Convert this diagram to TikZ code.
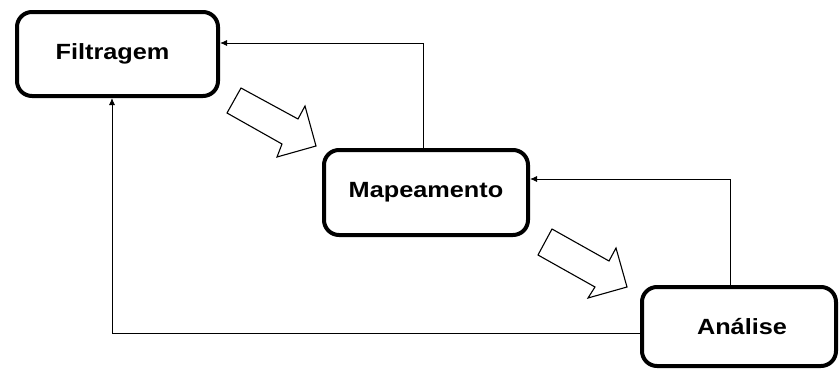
\documentclass[tikz,border=0pt]{standalone}
\usepackage{fontspec}
\newfontfamily\labfont{Liberation Sans}[FakeStretch=1.15]
\usetikzlibrary{arrows.meta}
\begin{document}
\begin{tikzpicture}[x=1pt,y=-1pt,
  stage/.style={draw=black,line width=4pt,rounded corners=15pt,fill=white,
    font=\labfont\bfseries\fontsize{22}{24}\selectfont,inner sep=0pt},
  fb/.style={draw=black,line width=0.9pt,-{Latex[length=7pt,width=6pt]}},
  blockarrow/.style={draw=black,line width=1.1pt,fill=white,line join=miter}]
\useasboundingbox (0,0) rectangle (839,370);
\fill[white] (0,0) rectangle (839,370);
\node[stage,minimum width=201pt,minimum height=84pt] (filt) at (117.5,54) {\raisebox{2pt}{Filtragem}\hspace*{10pt}};
\node[stage,minimum width=204pt,minimum height=85pt] (map) at (426,192.5) {\raisebox{2pt}{Mapeamento}};
\node[stage,minimum width=194pt,minimum height=79pt] (ana) at (739,326.5) {\hspace*{6pt}Análise};
\coordinate (c1) at (423,43);
\coordinate (c2) at (730,179);
\coordinate (c3) at (112,333);
\draw[fb] (map.north -| c1) |- (filt.east |- c1);
\draw[fb] (ana.north -| c2) |- (map.east |- c2);
\draw[fb] (ana.west |- c3) -| (filt.south -| c3);
\draw[blockarrow] (241,88) -- (227,113) -- (282,144) -- (277,157) -- (316,146) -- (305,106) -- (298,119) -- cycle;
\draw[blockarrow] (552,229) -- (538,255) -- (595,287) -- (588,298) -- (627,287) -- (616,248) -- (609,261) -- cycle;
\end{tikzpicture}
\end{document}
